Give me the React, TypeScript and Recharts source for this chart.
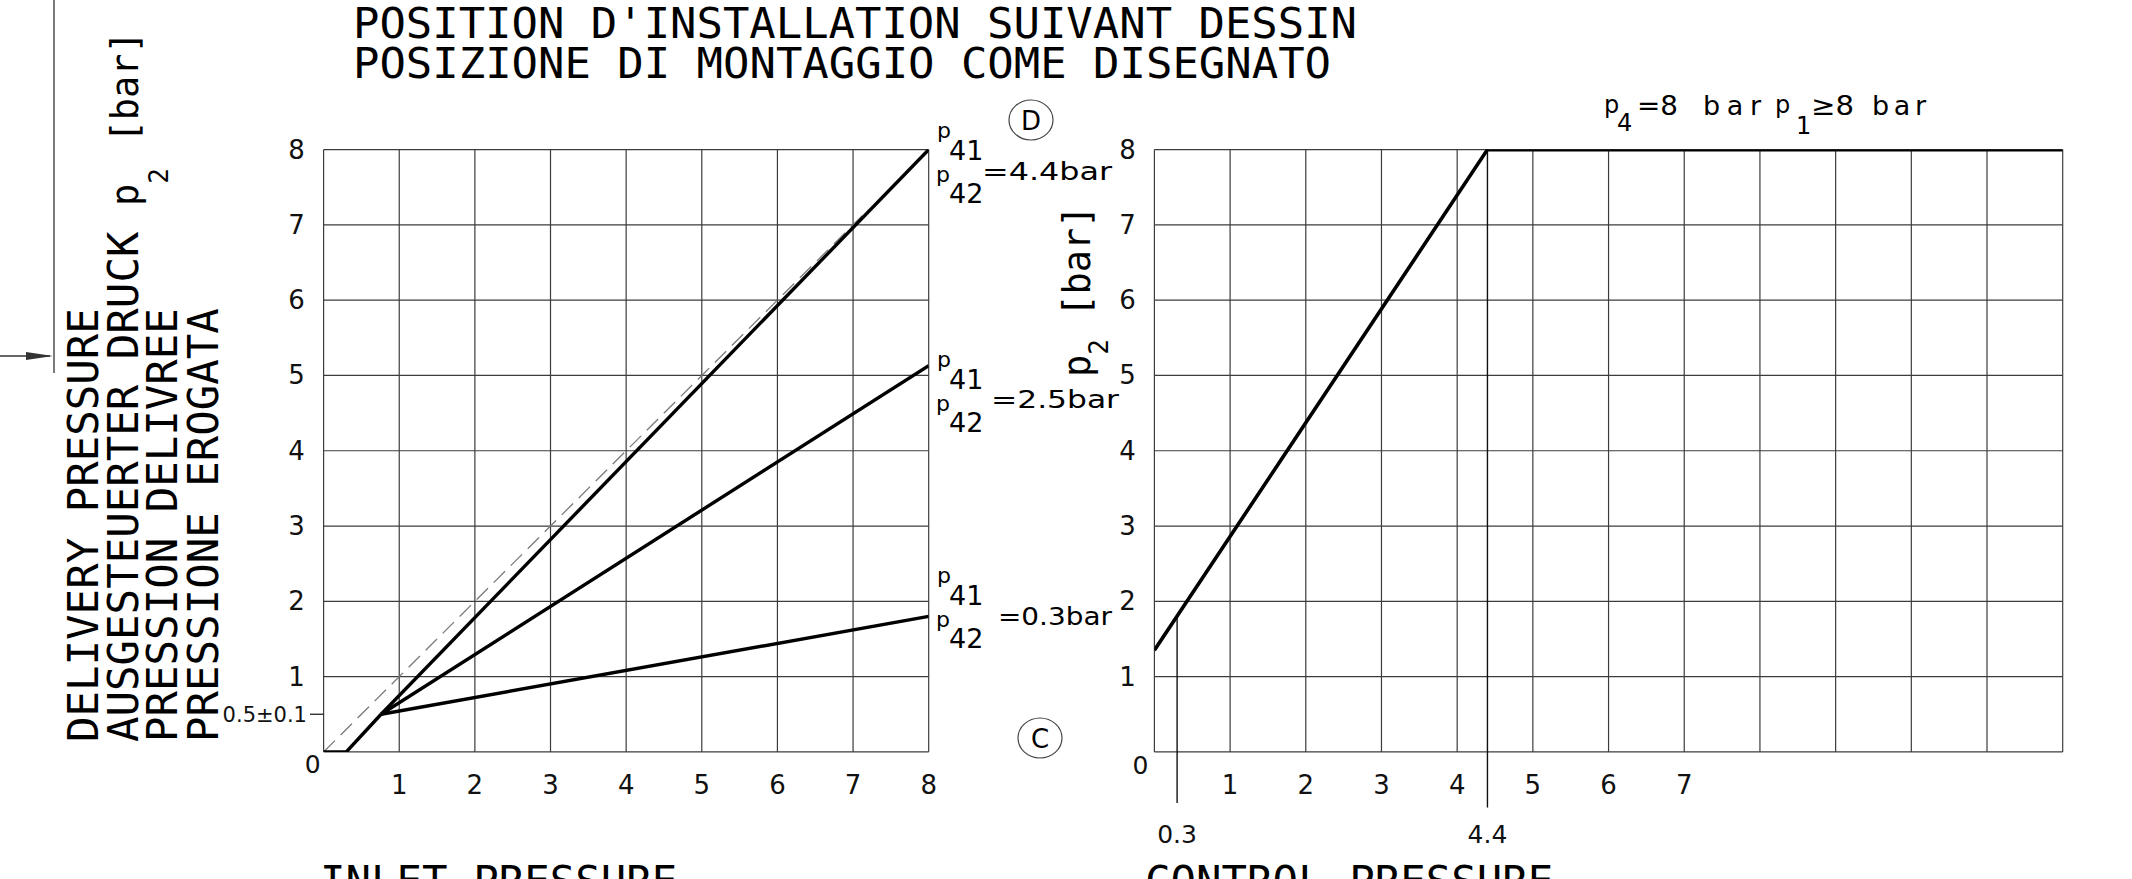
import React from 'react';
import { LineChart, Line, XAxis, YAxis, CartesianGrid, ReferenceLine } from 'recharts';

// ---------- data ----------
const inletTicks = [0, 1, 2, 3, 4, 5, 6, 7, 8];
const deliveryTicks = [0, 1, 2, 3, 4, 5, 6, 7, 8];
const controlGridTicks = [0, 1, 2, 3, 4, 5, 6, 7, 8, 9, 10, 11, 12];
const controlLabelTicks = [1, 2, 3, 4, 5, 6, 7];
const controlMarkTicks = [0.3, 4.4];

// left chart: delivery pressure vs inlet pressure
const startCurve = [
  { x: 0, y: 0 },
  { x: 0.3, y: 0 },
  { x: 0.76, y: 0.5 },
];
const curve44 = [
  { x: 0.76, y: 0.5 },
  { x: 8, y: 8 },
];
const curve25 = [
  { x: 0.76, y: 0.5 },
  { x: 8, y: 5.13 },
];
const curve03 = [
  { x: 0.76, y: 0.5 },
  { x: 8, y: 1.8 },
];
const idealLine = [
  { x: 0, y: 0 },
  { x: 7.2, y: 7.2 },
];
const toleranceValue = 0.5;
const toleranceLabel = '0.5±0.1';

// right chart: delivery pressure vs control pressure
const controlCurve = [
  { x: 0, y: 1.35 },
  { x: 4.4, y: 8 },
  { x: 12, y: 8 },
];

const W = 2132;
const H = 879;
const CAD = "'DejaVu Sans Mono', monospace";
const SANS = "'DejaVu Sans', sans-serif";
const GRID = '#3c3c3c';

const LeftYTick = (props: any) => {
  const { x, y, payload } = props;
  const v = payload.value;
  if (v === 0) {
    return (
      <text x={x - 11} y={y + 13} textAnchor="middle" dominantBaseline="central" fontFamily={SANS} fontSize={25} fill="#111">
        0
      </text>
    );
  }
  return (
    <text x={x - 27} y={y} textAnchor="middle" dominantBaseline="central" fontFamily={SANS} fontSize={26} fill="#111">
      {v}
    </text>
  );
};

const RightYTick = (props: any) => {
  const { x, y, payload } = props;
  const v = payload.value;
  if (v === 0) {
    return (
      <text x={x - 14} y={y + 14} textAnchor="middle" dominantBaseline="central" fontFamily={SANS} fontSize={25} fill="#111">
        0
      </text>
    );
  }
  return (
    <text x={x - 27} y={y} textAnchor="middle" dominantBaseline="central" fontFamily={SANS} fontSize={26} fill="#111">
      {v}
    </text>
  );
};

const LeftXTick = (props: any) => {
  const { x, y, payload } = props;
  if (payload.value === 0) return <g />;
  return (
    <text x={x} y={y + 33} textAnchor="middle" dominantBaseline="central" fontFamily={SANS} fontSize={26} fill="#111">
      {payload.value}
    </text>
  );
};

const RightXTick = (props: any) => {
  const { x, y, payload } = props;
  if (!controlLabelTicks.includes(payload.value)) return <g />;
  return (
    <text x={x} y={y + 33} textAnchor="middle" dominantBaseline="central" fontFamily={SANS} fontSize={26} fill="#111">
      {payload.value}
    </text>
  );
};

const MarkTick = (props: any) => {
  const { x, y, payload } = props;
  return (
    <text x={x} y={y + 82} textAnchor="middle" dominantBaseline="central" fontFamily={SANS} fontSize={25} fill="#111">
      {String(payload.value)}
    </text>
  );
};

const lineCommon = {
  type: 'linear' as const,
  dataKey: 'y',
  dot: false,
  activeDot: false,
  isAnimationActive: false,
};

function LeftChart() {
  return (
    <LineChart width={W} height={H} margin={{ top: 149.6, right: 1203.3, bottom: 126.1, left: 322.6 }}>
      <CartesianGrid stroke={GRID} strokeWidth={1.2} />
      <XAxis
        type="number"
        dataKey="x"
        domain={[0, 8]}
        ticks={inletTicks}
        interval={0}
        height={1}
        tickSize={0}
        tickMargin={0}
        axisLine={false}
        tickLine={false}
        tick={<LeftXTick />}
        allowDataOverflow
      />
      <YAxis
        type="number"
        dataKey="y"
        domain={[0, 8]}
        ticks={deliveryTicks}
        interval={0}
        width={1}
        tickSize={0}
        tickMargin={0}
        axisLine={false}
        tickLine={false}
        tick={<LeftYTick />}
        allowDataOverflow
      />
      <ReferenceLine
        segment={[
          { x: -0.18, y: toleranceValue },
          { x: 0, y: toleranceValue },
        ]}
        stroke="#222"
        strokeWidth={1.3}
        ifOverflow="visible"
        label={{ value: toleranceLabel, position: 'left', offset: 3, fontSize: 21, fill: '#111', fontFamily: SANS }}
      />
      <Line {...lineCommon} data={idealLine} stroke="#7a7a7a" strokeWidth={1.3} strokeDasharray="16 8" />
      <Line {...lineCommon} data={startCurve} stroke="#000" strokeWidth={3.4} />
      <Line {...lineCommon} data={curve44} stroke="#000" strokeWidth={3.4} />
      <Line {...lineCommon} data={curve25} stroke="#000" strokeWidth={3.4} />
      <Line {...lineCommon} data={curve03} stroke="#000" strokeWidth={3.4} />
    </LineChart>
  );
}

function RightChart() {
  return (
    <LineChart width={W} height={H} margin={{ top: 149.6, right: 69.3, bottom: 125.1, left: 1153.4 }}>
      <CartesianGrid stroke={GRID} strokeWidth={1.2} />
      <XAxis
        type="number"
        dataKey="x"
        domain={[0, 12]}
        ticks={controlGridTicks}
        interval={0}
        height={1}
        tickSize={0}
        tickMargin={0}
        axisLine={false}
        tickLine={false}
        tick={<RightXTick />}
        allowDataOverflow
      />
      <XAxis
        xAxisId="marks"
        type="number"
        dataKey="x"
        domain={[0, 12]}
        ticks={controlMarkTicks}
        interval={0}
        height={1}
        tickSize={0}
        tickMargin={0}
        axisLine={false}
        tickLine={false}
        tick={<MarkTick />}
        allowDataOverflow
      />
      <YAxis
        type="number"
        dataKey="y"
        domain={[0, 8]}
        ticks={deliveryTicks}
        interval={0}
        width={1}
        tickSize={0}
        tickMargin={0}
        axisLine={false}
        tickLine={false}
        tick={<RightYTick />}
        allowDataOverflow
      />
      <ReferenceLine
        segment={[
          { x: controlMarkTicks[1], y: -0.74 },
          { x: controlMarkTicks[1], y: 8 },
        ]}
        stroke="#111"
        strokeWidth={1.4}
        ifOverflow="visible"
      />
      <ReferenceLine
        segment={[
          { x: controlMarkTicks[0], y: -0.68 },
          { x: controlMarkTicks[0], y: 1.8 },
        ]}
        stroke="#111"
        strokeWidth={1.4}
        ifOverflow="visible"
      />
      <Line {...lineCommon} data={controlCurve} stroke="#000" strokeWidth={3.6} />
    </LineChart>
  );
}

function PLabel({ x, y, eq, eqX, eqY, eqLen }: any) {
  return (
    <g fontFamily={SANS} fill="#000">
      <text x={x} y={y} fontSize={22}>p</text>
      <text x={x + 12} y={y + 22} fontSize={27}>41</text>
      <text x={x - 1} y={y + 44} fontSize={22}>p</text>
      <text x={x + 12} y={y + 65} fontSize={27}>42</text>
      <text x={eqX} y={eqY} fontSize={25} textLength={eqLen} lengthAdjust="spacingAndGlyphs">{eq}</text>
    </g>
  );
}

function Overlay() {
  return (
    <svg width={W} height={H} style={{ position: 'absolute', left: 0, top: 0, pointerEvents: 'none' }}>
      {/* drawing frame fragment */}
      <line x1={54} y1={0} x2={54} y2={373} stroke="#333" strokeWidth={1.3} />
      <line x1={0} y1={356} x2={50} y2={356} stroke="#333" strokeWidth={1.3} />
      <polygon points="26,352 53,356 26,360" fill="#333" />

      {/* titles */}
      <g fontFamily={CAD} fill="#000" fontSize={42.4}>
        <text x={353} y={38} textLength={1004} lengthAdjust="spacingAndGlyphs">POSITION D'INSTALLATION SUIVANT DESSIN</text>
        <text x={353} y={78} textLength={978} lengthAdjust="spacingAndGlyphs">POSIZIONE DI MONTAGGIO COME DISEGNATO</text>
      </g>

      {/* left vertical axis title */}
      <g fontFamily={CAD} fill="#000" fontSize={42.4}>
        <text x={98} y={742} transform="rotate(-90 98 742)">DELIVERY PRESSURE</text>
        <text x={138} y={742} transform="rotate(-90 138 742)">
          AUSGESTEUERTER DRUCK <tspan fontSize={37}>p</tspan>
          <tspan fontSize={26} dy={30}>2</tspan>
          <tspan dy={-30}> </tspan>
          <tspan fontSize={37}>[bar]</tspan>
        </text>
        <text x={177} y={742} transform="rotate(-90 177 742)">PRESSION DELIVREE</text>
        <text x={218} y={742} transform="rotate(-90 218 742)">PRESSIONE EROGATA</text>
      </g>

      {/* right vertical axis title */}
      <text x={1090} y={377} transform="rotate(-90 1090 377)" fontFamily={CAD} fill="#000" fontSize={37}>
        p<tspan fontSize={26} dy={18}>2</tspan>
        <tspan dy={-18}> [bar]</tspan>
      </text>

      {/* x axis titles (cut by the bottom edge) */}
      <g fontFamily={CAD} fill="#000" fontSize={42.4}>
        <text x={320} y={896}>INLET PRESSURE</text>
        <text x={1145} y={896}>CONTROL PRESSURE</text>
      </g>

      {/* curve labels */}
      <PLabel x={937} y={138} eq="=4.4bar" eqX={982} eqY={180} eqLen={130} />
      <PLabel x={937} y={367} eq="=2.5bar" eqX={991} eqY={408} eqLen={128} />
      <PLabel x={937} y={583} eq="=0.3bar" eqX={998} eqY={625} eqLen={114} />

      {/* circled letters */}
      <ellipse cx={1031} cy={120} rx={22} ry={20} fill="none" stroke="#444" strokeWidth={1.2} />
      <text x={1031} y={121} textAnchor="middle" dominantBaseline="central" fontFamily={SANS} fontSize={26} fill="#000">D</text>
      <ellipse cx={1040} cy={738} rx={22} ry={20} fill="none" stroke="#444" strokeWidth={1.2} />
      <text x={1040} y={739} textAnchor="middle" dominantBaseline="central" fontFamily={SANS} fontSize={26} fill="#000">C</text>

      {/* top right condition */}
      <g fontFamily={SANS} fill="#000">
        <text x={1604} y={113} fontSize={24}>p</text>
        <text x={1617} y={131} fontSize={24}>4</text>
        <text x={1637} y={115} fontSize={27} textLength={41} lengthAdjust="spacingAndGlyphs">=8</text>
        <text x={1703} y={115} fontSize={27} textLength={58} lengthAdjust="spacing">bar</text>
        <text x={1775} y={113} fontSize={24}>p</text>
        <text x={1796} y={134} fontSize={24}>1</text>
        <text x={1811} y={115} fontSize={27} textLength={43} lengthAdjust="spacingAndGlyphs">≥8</text>
        <text x={1872} y={115} fontSize={27} textLength={54} lengthAdjust="spacing">bar</text>
      </g>
    </svg>
  );
}

export default function App() {
  return (
    <div style={{ position: 'absolute', left: 0, top: 0, width: W, height: H, overflow: 'hidden', background: '#fff' }}>
      <div style={{ position: 'absolute', left: 0, top: 0 }}>
        <LeftChart />
      </div>
      <div style={{ position: 'absolute', left: 0, top: 0 }}>
        <RightChart />
      </div>
      <Overlay />
    </div>
  );
}
